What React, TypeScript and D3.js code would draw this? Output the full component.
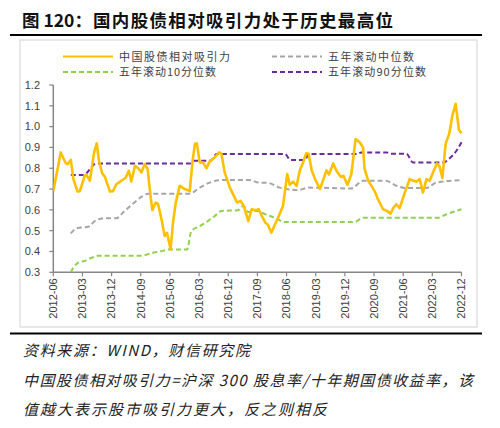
import React, { useEffect, useRef } from 'react';
import * as d3 from 'd3';

// x values are months since 2012-06
const attractT = [0, 2.3, 3.8, 4.5, 5.4, 6.2, 7.5, 8.2, 9.7, 10.2, 11.3, 12.6, 13.4, 14.1, 15.1, 15.9, 17.5, 18.4, 19.5, 21, 22.3, 23.3, 24.1, 25.2, 26.2, 27.2, 28.2, 29.1, 30.1, 30.6, 31.6, 32.3, 33.4, 34.4, 35.1, 36.2, 37, 37.8, 39, 40.6, 42.1, 43, 43.7, 44.3, 45.2, 46.2, 47.3, 48.3, 49.8, 51.2, 51.9, 52.9, 54.5, 56, 56.7, 57.8, 58.8, 60.2, 61.2, 62.5, 63.4, 64.4, 65.5, 66.2, 67.3, 68.4, 69.6, 70.9, 72.2, 73, 74, 75.1, 76.1, 77.1, 78.1, 78.8, 79.8, 80.8, 82.3, 83.3, 84.3, 85.1, 86.4, 87.4, 88.7, 89.6, 90.8, 92, 93.3, 94.6, 95.6, 96.1, 97.2, 98.2, 99.2, 100.2, 101.8, 103, 104.1, 104.9, 105.9, 106.9, 108.5, 110, 111.1, 112.1, 113.1, 114.1, 115.2, 116.2, 117.2, 118.4, 119.2, 120.1, 121.1, 122.2, 123.2, 124.2, 125.2, 126];
const attractV = [0.69, 0.876, 0.825, 0.82, 0.84, 0.748, 0.688, 0.69, 0.764, 0.77, 0.74, 0.876, 0.92, 0.836, 0.775, 0.76, 0.688, 0.69, 0.724, 0.74, 0.753, 0.788, 0.736, 0.812, 0.8, 0.78, 0.82, 0.796, 0.656, 0.598, 0.635, 0.63, 0.555, 0.474, 0.49, 0.41, 0.546, 0.635, 0.715, 0.7, 0.69, 0.836, 0.917, 0.92, 0.828, 0.828, 0.8, 0.833, 0.852, 0.876, 0.87, 0.78, 0.707, 0.659, 0.635, 0.643, 0.619, 0.546, 0.603, 0.598, 0.603, 0.57, 0.538, 0.53, 0.49, 0.53, 0.57, 0.619, 0.772, 0.72, 0.736, 0.715, 0.79, 0.828, 0.872, 0.87, 0.788, 0.748, 0.7, 0.743, 0.79, 0.77, 0.823, 0.788, 0.759, 0.763, 0.72, 0.772, 0.94, 0.925, 0.9, 0.796, 0.74, 0.715, 0.69, 0.651, 0.603, 0.595, 0.582, 0.608, 0.627, 0.608, 0.683, 0.748, 0.74, 0.735, 0.748, 0.683, 0.748, 0.74, 0.78, 0.823, 0.81, 0.753, 0.917, 0.965, 1.054, 1.11, 0.985, 0.968];

const medianT = [5.4, 7.2, 11, 12.8, 15.9, 19.5, 22, 24.6, 27.2, 29.3, 42.1, 45.2, 48.3, 51.4, 60.6, 63.4, 66.2, 69.9, 72, 75.5, 78.8, 92, 95.6, 102.6, 106, 108.9, 115.2, 118.2, 126];
const medianV = [0.487, 0.511, 0.52, 0.546, 0.56, 0.56, 0.595, 0.63, 0.662, 0.678, 0.678, 0.707, 0.731, 0.743, 0.743, 0.731, 0.73, 0.707, 0.7, 0.695, 0.707, 0.703, 0.74, 0.74, 0.715, 0.705, 0.705, 0.731, 0.743];

const p10T = [5.4, 6.1, 7.6, 9.7, 11.8, 13.8, 27.2, 30.5, 32.9, 36, 41.3, 42.6, 45.2, 47.7, 49.8, 51.9, 57, 58.6, 60.2, 62.8, 65.2, 69.4, 70.9, 93, 95.6, 118.7, 121.4, 126];
const p10V = [0.3, 0.32, 0.345, 0.355, 0.37, 0.38, 0.38, 0.393, 0.4, 0.41, 0.41, 0.498, 0.522, 0.546, 0.57, 0.595, 0.598, 0.619, 0.59, 0.595, 0.58, 0.555, 0.542, 0.542, 0.562, 0.562, 0.579, 0.603];

const p90T = [5.4, 9.2, 13.3, 42.1, 43.5, 48.6, 50.4, 71.5, 73.2, 77.7, 78.8, 94, 95, 103, 104, 109, 111, 120.4, 122.5, 124.5, 126];
const p90V = [0.767, 0.767, 0.823, 0.823, 0.836, 0.836, 0.869, 0.869, 0.84, 0.84, 0.869, 0.869, 0.876, 0.876, 0.87, 0.87, 0.828, 0.828, 0.85, 0.885, 0.925];

const tickLabels = ['2012-06', '2013-03', '2013-12', '2014-09', '2015-06', '2016-03', '2016-12', '2017-09', '2018-06', '2019-03', '2019-12', '2020-09', '2021-06', '2022-03', '2022-12'];
const yTicks = [0.3, 0.4, 0.5, 0.6, 0.7, 0.8, 0.9, 1.0, 1.1, 1.2];

const seriesNames = ['中国股债相对吸引力', '五年滚动中位数', '五年滚动10分位数', '五年滚动90分位数'];

const CJK = '"Noto Sans CJK SC", sans-serif';
const NUM = '"Liberation Sans", Arial, sans-serif';

export default function App() {
  const svgRef = useRef<SVGSVGElement>(null);

  useEffect(() => {
    if (!svgRef.current) return;
    const svg = d3.select(svgRef.current);
    svg.selectAll('*').remove();

    const x = d3.scaleLinear().domain([0, 126]).range([53.3, 461.5]);
    const y = d3.scaleLinear().domain([0.3, 1.2]).range([272.3, 85]);

    // title
    svg.append('text').attr('x', 22).attr('y', 27)
      .attr('font-family', CJK).attr('font-weight', 700).attr('font-size', 17.5).attr('fill', '#111')
      .text('图 120：');
    svg.append('text').attr('x', 93).attr('y', 27)
      .attr('font-family', CJK).attr('font-weight', 700).attr('font-size', 17.5).attr('fill', '#111')
      .attr('textLength', 300).attr('lengthAdjust', 'spacing')
      .text('国内股债相对吸引力处于历史最高位');
    svg.append('line').attr('x1', 10).attr('x2', 482).attr('y1', 35).attr('y2', 35)
      .attr('stroke', '#000').attr('stroke-width', 2);

    // chart frame
    svg.append('rect').attr('x', 20).attr('y', 40).attr('width', 457).attr('height', 287)
      .attr('fill', '#fff').attr('stroke', '#d9d9d9').attr('stroke-width', 1.2);

    // legend
    const styles = [
      { color: '#FFC000', dash: null },
      { color: '#A6A6A6', dash: '5,3' },
      { color: '#92D050', dash: '5,3' },
      { color: '#6A2C9C', dash: '5,3' },
    ];
    const legendPos = [[63, 56.5], [272, 56.5], [63, 72], [272, 72]];
    const legendLen = [111, 86, 97, 98];
    seriesNames.forEach((name, i) => {
      const [lx, ly] = legendPos[i];
      const ln = svg.append('line').attr('x1', lx).attr('x2', lx + 50).attr('y1', ly).attr('y2', ly)
        .attr('stroke', styles[i].color).attr('stroke-width', 2.2);
      if (styles[i].dash) ln.attr('stroke-dasharray', styles[i].dash);
      svg.append('text').attr('x', lx + 56).attr('y', ly + 4)
        .attr('font-family', CJK).attr('font-size', 11).attr('fill', '#404040')
        .attr('textLength', legendLen[i]).attr('lengthAdjust', 'spacing')
        .text(name);
    });

    // axes
    const g = svg.append('g');
    g.append('line').attr('x1', x(0)).attr('x2', x(0)).attr('y1', y(1.2)).attr('y2', y(0.3))
      .attr('stroke', '#868686').attr('stroke-width', 1.5);
    yTicks.forEach(t => {
      g.append('line').attr('x1', x(0) - 4).attr('x2', x(0)).attr('y1', y(t)).attr('y2', y(t))
        .attr('stroke', '#868686').attr('stroke-width', 1.2);
      g.append('text').attr('x', 40).attr('y', y(t)).attr('dy', '0.35em')
        .attr('text-anchor', 'end').attr('font-family', NUM).attr('font-size', 11).attr('fill', '#404040')
        .text(t.toFixed(1));
    });
    g.append('line').attr('x1', x(0)).attr('x2', x(126)).attr('y1', y(0.3)).attr('y2', y(0.3))
      .attr('stroke', '#868686').attr('stroke-width', 1.5);
    tickLabels.forEach((lab, i) => {
      const tx = x(i * 9);
      g.append('line').attr('x1', tx).attr('x2', tx).attr('y1', y(0.3)).attr('y2', y(0.3) + 4)
        .attr('stroke', '#868686').attr('stroke-width', 1.2);
      g.append('text').attr('transform', `translate(${tx},${y(0.3) + 6}) rotate(-90)`)
        .attr('dy', '0.35em').attr('text-anchor', 'end')
        .attr('font-family', NUM).attr('font-size', 11).attr('fill', '#404040')
        .text(lab);
    });

    // series
    svg.append('clipPath').attr('id', 'plotclip').append('rect')
      .attr('x', x(0)).attr('y', y(1.2) - 5).attr('width', x(126) - x(0) + 5).attr('height', y(0.3) - y(1.2) + 5);
    const plot = svg.append('g').attr('clip-path', 'url(#plotclip)');

    const series = [
      { t: attractT, v: attractV },
      { t: medianT, v: medianV },
      { t: p10T, v: p10V },
      { t: p90T, v: p90V },
    ];
    const drawOrder = [1, 2, 3, 0];
    drawOrder.forEach(i => {
      const s = series[i];
      const pts = s.t.map((t, k) => [t, s.v[k]] as [number, number]);
      const line = d3.line<[number, number]>()
        .x(d => x(d[0])).y(d => y(d[1]))
        .curve(i === 0 ? d3.curveLinear : d3.curveMonotoneX);
      const p = plot.append('path').datum(pts).attr('d', line)
        .attr('fill', 'none').attr('stroke', styles[i].color)
        .attr('stroke-width', i === 0 ? 2.6 : 2).attr('stroke-linejoin', 'round');
      if (styles[i].dash) p.attr('stroke-dasharray', styles[i].dash);
    });

    // footer
    svg.append('line').attr('x1', 10).attr('x2', 482).attr('y1', 333.5).attr('y2', 333.5)
      .attr('stroke', '#000').attr('stroke-width', 2);
    const notes = [
      { text: '资料来源：WIND，财信研究院', y: 356, len: 227 },
      { text: '中国股债相对吸引力=沪深 300 股息率/十年期国债收益率，该', y: 386, len: 450 },
      { text: '值越大表示股市吸引力更大，反之则相反', y: 415, len: 304 },
    ];
    notes.forEach(n => {
      svg.append('text').attr('x', 23).attr('y', n.y)
        .attr('font-family', CJK).attr('font-style', 'italic').attr('font-size', 15).attr('fill', '#222')
        .attr('textLength', n.len).attr('lengthAdjust', 'spacing')
        .text(n.text);
    });
  }, []);

  return (
    <div style={{ position: 'absolute', left: 0, top: 0, background: '#fff' }}>
      <svg ref={svgRef} width={500} height={428} style={{ display: 'block' }} />
    </div>
  );
}
